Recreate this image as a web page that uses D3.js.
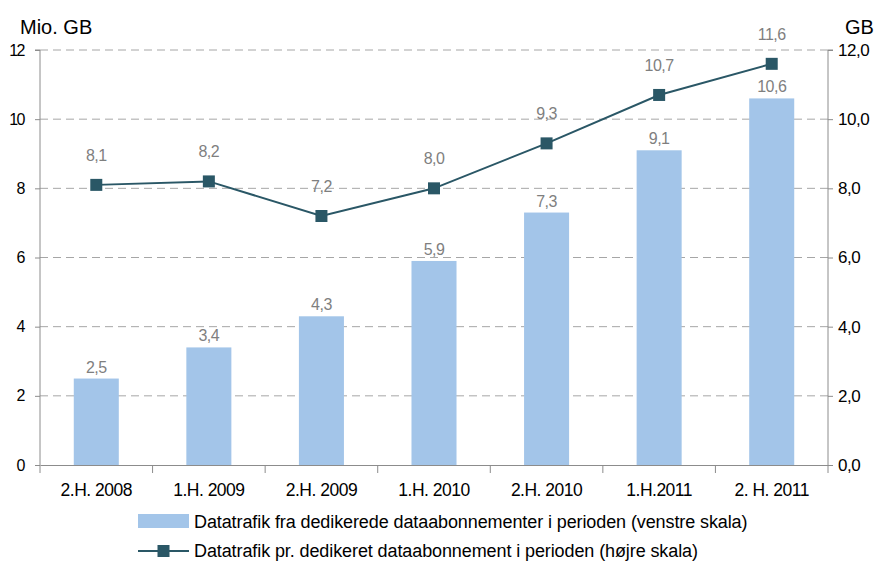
<!DOCTYPE html>
<html>
<head>
<meta charset="utf-8">
<script src="https://cdn.jsdelivr.net/npm/d3@7"></script>
<style>
  body { margin: 0; background: #fff; }
  svg text { font-family: "Liberation Sans", Arial, sans-serif; }
</style>
</head>
<body>
<div id="chart"></div>
<script>
const periods = ["2.H. 2008", "1.H. 2009", "2.H. 2009", "1.H. 2010", "2.H. 2010", "1.H.2011", "2. H. 2011"];
const trafficTotal = [2.5, 3.4, 4.3, 5.9, 7.3, 9.1, 10.6];
const trafficPerSub = [8.1, 8.2, 7.2, 8.0, 9.3, 10.7, 11.6];
const leftTicks = [0, 2, 4, 6, 8, 10, 12];
const rightTicks = [0, 2, 4, 6, 8, 10, 12];

const width = 874, height = 561;
const margin = { top: 50, right: 46, bottom: 96, left: 40 };
const barColor = "#a3c5e9";
const lineColor = "#2a5766";
const fmt = v => d3.format(".1f")(v).replace(".", ",");

const svg = d3.select("#chart").append("svg")
  .attr("width", width)
  .attr("height", height)
  .style("letter-spacing", "-0.5px");

const x = d3.scaleBand()
  .domain(periods)
  .range([margin.left, width - margin.right]);

const y = d3.scaleLinear()
  .domain([0, 12])
  .range([height - margin.bottom, margin.top]);

const y2 = d3.scaleLinear()
  .domain([0, 12])
  .range([height - margin.bottom, margin.top]);

// gridlines
svg.append("g")
  .selectAll("line")
  .data(leftTicks.filter(d => d > 0))
  .join("line")
  .attr("x1", margin.left)
  .attr("x2", width - margin.right)
  .attr("y1", d => y(d))
  .attr("y2", d => y(d))
  .attr("stroke", "#a6a6a6")
  .attr("stroke-dasharray", "8,5");

// bars
const barW = x.step() * 0.4;
svg.append("g")
  .selectAll("rect")
  .data(trafficTotal)
  .join("rect")
  .attr("x", (d, i) => x(periods[i]) + x.step() / 2 - barW / 2)
  .attr("y", d => y(d))
  .attr("width", barW)
  .attr("height", d => y(0) - y(d))
  .attr("fill", barColor);

svg.append("g")
  .selectAll("text")
  .data(trafficTotal)
  .join("text")
  .attr("x", (d, i) => x(periods[i]) + x.step() / 2)
  .attr("y", d => y(d) - 6)
  .attr("text-anchor", "middle")
  .style("font-size", "16px")
  .style("fill", "#7f7f7f")
  .text(d => fmt(d));

// left axis
const axL = svg.append("g")
  .attr("transform", `translate(${margin.left},0)`)
  .call(d3.axisLeft(y).tickValues(leftTicks).tickSize(5).tickPadding(11).tickFormat(d3.format("d")));
axL.select(".domain").attr("stroke", "#8c8c8c").attr("d", `M-5,${y(12)}H0V${y(0)}`);
axL.selectAll(".tick line").attr("stroke", "#8c8c8c");
axL.selectAll("text").style("font-size", "16px").style("letter-spacing", "-1.5px").style("fill", "#000").style("font-family", "Liberation Sans, Arial, sans-serif");

// right axis
const axR = svg.append("g")
  .attr("transform", `translate(${width - margin.right},0)`)
  .call(d3.axisRight(y2).tickValues(rightTicks).tickSize(5).tickPadding(5).tickFormat(fmt));
axR.select(".domain").attr("stroke", "#8c8c8c").attr("d", `M5,${y2(12)}H0V${y2(0)}`);
axR.selectAll(".tick line").attr("stroke", "#8c8c8c");
axR.selectAll("text").style("font-size", "17px").style("fill", "#000").style("font-family", "Liberation Sans, Arial, sans-serif");

// bottom axis
const axB = svg.append("g")
  .attr("transform", `translate(0,${y(0)})`)
  .call(d3.axisBottom(x).tickSize(0).tickPadding(19));
axB.select(".domain").attr("stroke", "#8c8c8c");
axB.selectAll("text").style("font-size", "17.5px").style("fill", "#000").style("font-family", "Liberation Sans, Arial, sans-serif");
axB.append("g")
  .selectAll("line")
  .data(d3.range(periods.length + 1))
  .join("line")
  .attr("x1", i => margin.left + i * x.step())
  .attr("x2", i => margin.left + i * x.step())
  .attr("y1", 0)
  .attr("y2", 8)
  .attr("stroke", "#8c8c8c");

// line series
const cx = i => x(periods[i]) + x.step() / 2;
const line = d3.line()
  .x((d, i) => cx(i))
  .y(d => y2(d));

svg.append("path")
  .datum(trafficPerSub)
  .attr("fill", "none")
  .attr("stroke", lineColor)
  .attr("stroke-width", 2)
  .attr("d", line);

svg.append("g")
  .selectAll("rect")
  .data(trafficPerSub)
  .join("rect")
  .attr("x", (d, i) => cx(i) - 6)
  .attr("y", d => y2(d) - 6)
  .attr("width", 12)
  .attr("height", 12)
  .attr("fill", lineColor);

svg.append("g")
  .selectAll("text")
  .data(trafficPerSub)
  .join("text")
  .attr("x", (d, i) => cx(i))
  .attr("y", d => y2(d) - 24)
  .attr("text-anchor", "middle")
  .style("font-size", "16px")
  .style("fill", "#7f7f7f")
  .text(d => fmt(d));

// axis titles
svg.append("text")
  .attr("x", 20)
  .attr("y", 34)
  .style("font-size", "20px")
  .style("letter-spacing", "0px")
  .text("Mio. GB");

svg.append("text")
  .attr("x", 845)
  .attr("y", 34)
  .style("font-size", "20px")
  .style("letter-spacing", "0px")
  .text("GB");

// legend
const lg = svg.append("g").attr("transform", "translate(138,0)");
lg.append("rect")
  .attr("x", 0).attr("y", 514)
  .attr("width", 51).attr("height", 14)
  .attr("fill", barColor);
lg.append("text")
  .attr("x", 56).attr("y", 528)
  .style("font-size", "18px")
  .style("letter-spacing", "-0.1px")
  .text("Datatrafik fra dedikerede dataabonnementer i perioden (venstre skala)");

lg.append("line")
  .attr("x1", 0).attr("x2", 51)
  .attr("y1", 551).attr("y2", 551)
  .attr("stroke", lineColor).attr("stroke-width", 2);
lg.append("rect")
  .attr("x", 19.5).attr("y", 545)
  .attr("width", 12).attr("height", 12)
  .attr("fill", lineColor);
lg.append("text")
  .attr("x", 56).attr("y", 557)
  .style("font-size", "18px")
  .style("letter-spacing", "-0.1px")
  .text("Datatrafik pr. dedikeret dataabonnement i perioden (højre skala)");
</script>
</body>
</html>
